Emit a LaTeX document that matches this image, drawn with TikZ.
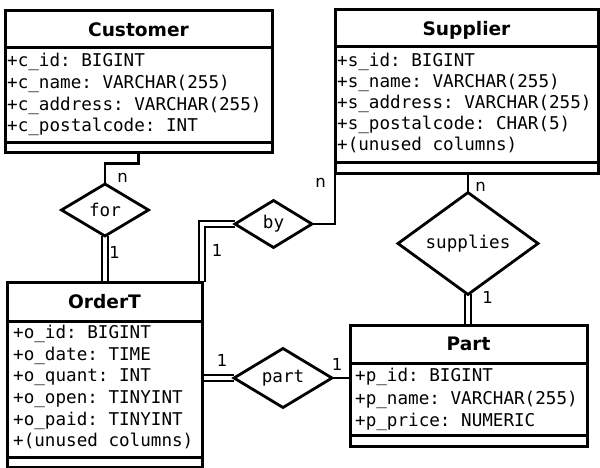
\documentclass[tikz,border=0pt]{standalone}
\usepackage{fontspec}
\setmainfont{DejaVu Sans}
\setmonofont{DejaVu Sans Mono}
\usetikzlibrary{shapes.geometric,backgrounds}
\begin{document}
\begin{tikzpicture}[x=1pt,y=-1pt,
  box/.style={draw, line width=3pt, fill=white, rectangle, inner sep=0pt, outer sep=0pt, anchor=north west},
  hdr/.style={box, font=\bfseries\fontsize{18.6}{20}\selectfont, text height=13.4pt, text depth=0pt},
  attr/.style={font=\ttfamily\fontsize{17.6}{20}\selectfont, anchor=base west, inner sep=0pt},
  rel/.style={diamond, draw, line width=2.8pt, fill=white, inner sep=0pt, outer sep=0pt, font=\ttfamily\fontsize{17.6}{20}\selectfont},
  conn/.style={line width=2.7pt},
  dbl/.style={line width=2.5pt, double, double distance=3.6pt, line join=miter},
  card/.style={font=\fontsize{16.5}{18}\selectfont, inner sep=0pt}
]
\useasboundingbox (0,0) rectangle (600,468);

% Customer
\node[hdr, minimum width=267pt, minimum height=37pt] (cusH) at (5,11) {Customer};
\node[box, minimum width=267pt, minimum height=95pt] (cusA) at (5,48) {};
\node[box, minimum width=267pt, minimum height=9.5pt] (cusF) at (5,143) {};
\node[attr] (c1) at (7,67) {+c\_id: BIGINT};
\node[attr] (c2) at (7,88.6) {+c\_name: VARCHAR(255)};
\node[attr] (c3) at (7,110.2) {+c\_address: VARCHAR(255)};
\node[attr] (c4) at (7,131.8) {+c\_postalcode: INT};

% Supplier
\node[hdr, minimum width=263pt, minimum height=37pt] (supH) at (335,10) {Supplier};
\node[box, minimum width=263pt, minimum height=116pt] (supA) at (335,47) {};
\node[box, minimum width=263pt, minimum height=11pt] (supF) at (335,163) {};
\node[attr] (s1) at (337,67) {+s\_id: BIGINT};
\node[attr] (s2) at (337,88) {+s\_name: VARCHAR(255)};
\node[attr] (s3) at (337,109) {+s\_address: VARCHAR(255)};
\node[attr] (s4) at (337,130) {+s\_postalcode: CHAR(5)};
\node[attr] (s5) at (337,151) {+(unused columns)};

% OrderT
\node[hdr, minimum width=195pt, minimum height=39pt] (ordH) at (7,282) {OrderT};
\node[box, minimum width=195pt, minimum height=136pt] (ordA) at (7,321) {};
\node[box, minimum width=195pt, minimum height=10pt] (ordF) at (7,457) {};
\node[attr] (o1) at (13,338.3) {+o\_id: BIGINT};
\node[attr] (o2) at (13,360) {+o\_date: TIME};
\node[attr] (o3) at (13,381.7) {+o\_quant: INT};
\node[attr] (o4) at (13,403.4) {+o\_open: TINYINT};
\node[attr] (o5) at (13,425.1) {+o\_paid: TINYINT};
\node[attr] (o6) at (13,446.8) {+(unused columns)};

% Part
\node[hdr, minimum width=237pt, minimum height=38pt] (partH) at (350,325) {Part};
\node[box, minimum width=237pt, minimum height=72pt] (partA) at (350,363) {};
\node[box, minimum width=237pt, minimum height=11pt] (partF) at (350,435) {};
\node[attr] (p1) at (355,381.7) {+p\_id: BIGINT};
\node[attr] (p2) at (355,404.2) {+p\_name: VARCHAR(255)};
\node[attr] (p3) at (355,426.7) {+p\_price: NUMERIC};

% Relationships
\node[rel, minimum width=87pt, minimum height=52pt] (for) at (105,210) {for};
\node[rel, minimum width=77pt, minimum height=47pt] (by) at (273.5,224) {by};
\node[rel, minimum width=140pt, minimum height=83pt] (supplies) at (468,243.5) {supplies};
\node[rel, minimum width=98pt, minimum height=59pt] (part) at (283,378) {part};

% Connectors
\begin{scope}[on background layer]
\draw[conn] (cusF.south) -- ++(0,11) -| (for.north);
\draw[dbl] (for.south) -- (for.south |- ordH.north);
\draw[dbl] (by.west) -| (ordH.north east);
\draw[conn] (by.east) -| (supF.south west);
\draw[conn] (supF.south -| supplies.north) -- (supplies.north);
\draw[dbl] (supplies.south) -- (supplies.south |- partH.north);
\draw[dbl] (ordA.east |- part.west) -- (part.west);
\draw[conn] (part.east) -- (partA.west |- part.east);
\end{scope}

% Cardinalities
\node[card] (l1) at (122.5,178) {n};
\node[card] (l2) at (114.5,252) {1};
\node[card] (l3) at (217,250) {1};
\node[card] (l4) at (320.5,183) {n};
\node[card] (l5) at (480.5,187) {n};
\node[card] (l6) at (487.5,297) {1};
\node[card] (l7) at (222,360) {1};
\node[card] (l8) at (337,364) {1};
\end{tikzpicture}
\end{document}
